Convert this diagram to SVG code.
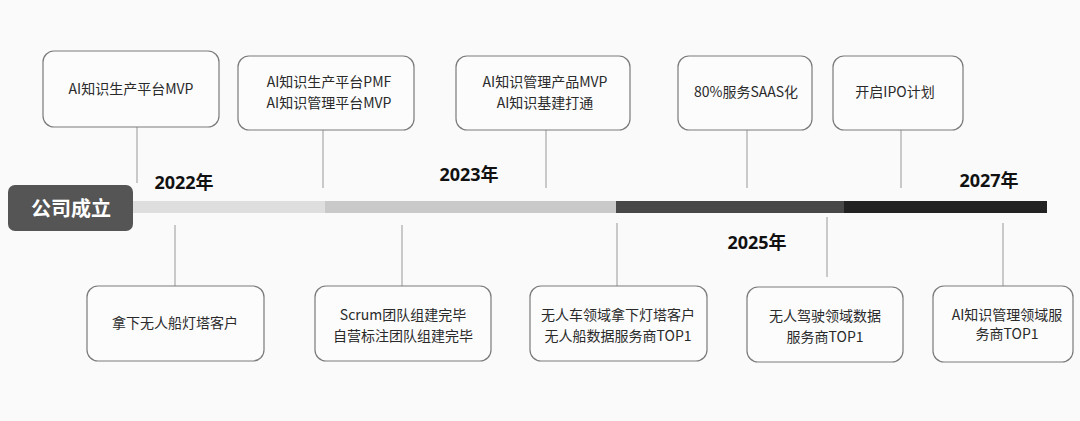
<svg xmlns="http://www.w3.org/2000/svg" width="1080" height="421" viewBox="0 0 1080 421">
<style>
.box{fill:#fcfcfc;stroke:#7a7a7a;stroke-width:1.2}
.t{font-family:"Noto Sans CJK SC","Noto Sans",sans-serif;font-size:14px;fill:#2a2a2a;text-anchor:middle}
.yr{font-family:"Noto Sans","Noto Sans CJK SC",sans-serif;font-size:18px;font-weight:bold;fill:#111;text-anchor:middle}
.ln{stroke:#a8a8a8;stroke-width:1.2;fill:none}
</style>
<rect width="1080" height="421" fill="#fafafa"/>
<g id="timeline">
<rect x="132" y="201" width="193" height="12" fill="#dedede"/>
<rect x="325" y="201" width="291" height="12" fill="#c9c9c9"/>
<rect x="616" y="201" width="228" height="12" fill="#484848"/>
<rect x="844" y="201" width="203" height="12" fill="#222"/>
</g>
<g id="connectors">
<line class="ln" x1="137" y1="127" x2="137" y2="183"/>
<line class="ln" x1="323" y1="130" x2="323" y2="188"/>
<line class="ln" x1="546" y1="130" x2="546" y2="188"/>
<line class="ln" x1="747" y1="130" x2="747" y2="188"/>
<line class="ln" x1="901" y1="130" x2="901" y2="188"/>
<line class="ln" x1="175" y1="225" x2="175" y2="286"/>
<line class="ln" x1="402" y1="225" x2="402" y2="286"/>
<line class="ln" x1="617" y1="223" x2="617" y2="286"/>
<line class="ln" x1="827" y1="217" x2="827" y2="277"/>
<line class="ln" x1="1003" y1="223" x2="1003" y2="286"/>
</g>
<g id="start">
<rect x="8" y="185" width="125" height="46" rx="7" fill="#555"/>
<text x="71" y="216" font-family="'Noto Sans CJK SC',sans-serif" font-size="20" font-weight="bold" fill="#fff" text-anchor="middle">公司成立</text>
</g>
<g id="years">
<text class="yr" x="184" y="189">2022年</text>
<text class="yr" x="469" y="181">2023年</text>
<text class="yr" x="757" y="249">2025年</text>
<text class="yr" x="989" y="187">2027年</text>
</g>
<g id="top1"><rect class="box" x="43" y="51" width="176" height="76" rx="11"/><text class="t" x="131" y="94">AI知识生产平台MVP</text></g>
<g id="top2"><rect class="box" x="238" y="56" width="176" height="74" rx="11"/><text class="t" x="329" y="87">AI知识生产平台PMF</text><text class="t" x="329" y="108">AI知识管理平台MVP</text></g>
<g id="top3"><rect class="box" x="456" y="56" width="174" height="74" rx="11"/><text class="t" x="545" y="87">AI知识管理产品MVP</text><text class="t" x="545" y="108">AI知识基建打通</text></g>
<g id="top4"><rect class="box" x="678" y="56" width="134" height="74" rx="11"/><text class="t" x="746" y="97">80%服务SAAS化</text></g>
<g id="top5"><rect class="box" x="833" y="56" width="130" height="74" rx="11"/><text class="t" x="895" y="97">开启IPO计划</text></g>
<g id="bot1"><rect class="box" x="87" y="286" width="177" height="75" rx="11"/><text class="t" x="175" y="328">拿下无人船灯塔客户</text></g>
<g id="bot2"><rect class="box" x="315" y="286" width="176" height="75" rx="11"/><text class="t" x="403" y="320">Scrum团队组建完毕</text><text class="t" x="403" y="341">自营标注团队组建完毕</text></g>
<g id="bot3"><rect class="box" x="530" y="286" width="177" height="75" rx="11"/><text class="t" x="618" y="320">无人车领域拿下灯塔客户</text><text class="t" x="618" y="341">无人船数据服务商TOP1</text></g>
<g id="bot4"><rect class="box" x="747" y="287" width="156" height="75" rx="11"/><text class="t" x="825" y="321">无人驾驶领域数据</text><text class="t" x="825" y="342">服务商TOP1</text></g>
<g id="bot5"><rect class="box" x="933" y="286" width="140" height="76" rx="11"/><text class="t" x="1007" y="320">AI知识管理领域服</text><text class="t" x="1007" y="339">务商TOP1</text></g>
</svg>
